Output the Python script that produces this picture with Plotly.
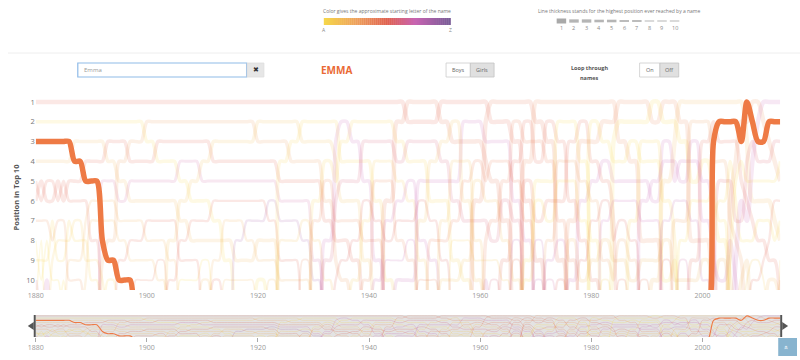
import plotly.graph_objects as go

# ---------------- data ----------------
YEARS = list(range(1880, 2015))
HIGHLIGHT = "Emma"
OUT_RANK = 11.6  # "not in top 10" -> drawn just below the visible range

PERIOD_YEARS = [1880, 1881, 1882, 1883, 1884, 1885, 1886, 1887, 1889, 1890, 1892, 1893, 1895, 1897, 1898,
                1900, 1902, 1904, 1906, 1908, 1910, 1912, 1914, 1916, 1918, 1920, 1922, 1924, 1926, 1928,
                1930, 1932, 1934, 1935, 1937, 1939, 1941, 1943, 1945, 1947, 1949, 1951, 1953, 1955, 1957,
                1959, 1961, 1962, 1964, 1966, 1968, 1970, 1972, 1974, 1976, 1978, 1980, 1982, 1984, 1985,
                1987, 1989, 1991, 1993, 1995, 1996, 1998, 2000, 2002, 2003, 2005, 2006, 2007, 2008, 2009,
                2010, 2011, 2012, 2013, 2014]

TOP10_ROSTERS = [
    ["Mary", "Anna", "Emma", "Elizabeth", "Minnie", "Margaret", "Ida", "Alice", "Bertha", "Sarah"],
    ["Mary", "Anna", "Emma", "Elizabeth", "Margaret", "Minnie", "Ida", "Annie", "Bertha", "Alice"],
    ["Mary", "Anna", "Emma", "Elizabeth", "Minnie", "Margaret", "Ida", "Alice", "Bertha", "Sarah"],
    ["Mary", "Anna", "Emma", "Elizabeth", "Minnie", "Margaret", "Bertha", "Ida", "Clara", "Alice"],
    ["Mary", "Anna", "Emma", "Elizabeth", "Margaret", "Minnie", "Ida", "Clara", "Bertha", "Alice"],
    ["Mary", "Anna", "Emma", "Elizabeth", "Minnie", "Margaret", "Ida", "Clara", "Bertha", "Annie"],
    ["Mary", "Anna", "Emma", "Elizabeth", "Margaret", "Minnie", "Bertha", "Clara", "Florence", "Ida"],
    ["Mary", "Anna", "Elizabeth", "Emma", "Margaret", "Minnie", "Clara", "Bertha", "Florence", "Ida"],
    ["Mary", "Anna", "Elizabeth", "Margaret", "Emma", "Minnie", "Florence", "Bertha", "Clara", "Ethel"],
    ["Mary", "Anna", "Elizabeth", "Margaret", "Emma", "Florence", "Ethel", "Minnie", "Clara", "Bertha"],
    ["Mary", "Anna", "Elizabeth", "Margaret", "Ruth", "Florence", "Ethel", "Emma", "Helen", "Clara"],
    ["Mary", "Anna", "Margaret", "Elizabeth", "Ruth", "Florence", "Ethel", "Helen", "Emma", "Bertha"],
    ["Mary", "Anna", "Margaret", "Helen", "Elizabeth", "Ruth", "Florence", "Ethel", "Marie", "Emma"],
    ["Mary", "Anna", "Helen", "Margaret", "Ruth", "Elizabeth", "Florence", "Marie", "Ethel", "Emma"],
    ["Mary", "Anna", "Helen", "Margaret", "Ruth", "Elizabeth", "Florence", "Marie", "Ethel", "Lillian"],
    ["Mary", "Helen", "Anna", "Margaret", "Ruth", "Elizabeth", "Marie", "Florence", "Ethel", "Lillian"],
    ["Mary", "Helen", "Margaret", "Anna", "Ruth", "Elizabeth", "Marie", "Florence", "Lillian", "Ethel"],
    ["Mary", "Helen", "Margaret", "Anna", "Ruth", "Elizabeth", "Marie", "Dorothy", "Florence", "Mildred"],
    ["Mary", "Helen", "Margaret", "Ruth", "Anna", "Dorothy", "Elizabeth", "Mildred", "Marie", "Alice"],
    ["Mary", "Helen", "Margaret", "Ruth", "Dorothy", "Anna", "Mildred", "Elizabeth", "Marie", "Alice"],
    ["Mary", "Helen", "Margaret", "Dorothy", "Ruth", "Anna", "Mildred", "Elizabeth", "Alice", "Ethel"],
    ["Mary", "Helen", "Dorothy", "Margaret", "Ruth", "Mildred", "Anna", "Elizabeth", "Frances", "Marie"],
    ["Mary", "Helen", "Dorothy", "Margaret", "Ruth", "Mildred", "Frances", "Elizabeth", "Anna", "Evelyn"],
    ["Mary", "Helen", "Dorothy", "Margaret", "Ruth", "Mildred", "Frances", "Virginia", "Elizabeth", "Evelyn"],
    ["Mary", "Helen", "Dorothy", "Margaret", "Ruth", "Mildred", "Virginia", "Frances", "Elizabeth", "Evelyn"],
    ["Mary", "Dorothy", "Helen", "Margaret", "Ruth", "Mildred", "Virginia", "Elizabeth", "Frances", "Anna"],
    ["Mary", "Dorothy", "Helen", "Margaret", "Ruth", "Virginia", "Mildred", "Elizabeth", "Frances", "Evelyn"],
    ["Mary", "Dorothy", "Helen", "Betty", "Margaret", "Ruth", "Virginia", "Doris", "Mildred", "Frances"],
    ["Mary", "Dorothy", "Betty", "Helen", "Margaret", "Ruth", "Virginia", "Doris", "Mildred", "Frances"],
    ["Mary", "Betty", "Dorothy", "Helen", "Margaret", "Ruth", "Doris", "Virginia", "Jean", "Frances"],
    ["Mary", "Betty", "Dorothy", "Helen", "Margaret", "Barbara", "Joan", "Doris", "Ruth", "Virginia"],
    ["Mary", "Betty", "Dorothy", "Barbara", "Joan", "Helen", "Margaret", "Shirley", "Patricia", "Doris"],
    ["Mary", "Betty", "Shirley", "Dorothy", "Barbara", "Patricia", "Joan", "Margaret", "Helen", "Nancy"],
    ["Mary", "Shirley", "Barbara", "Betty", "Patricia", "Dorothy", "Joan", "Margaret", "Nancy", "Helen"],
    ["Mary", "Barbara", "Shirley", "Betty", "Patricia", "Dorothy", "Joan", "Nancy", "Margaret", "Carol"],
    ["Mary", "Barbara", "Patricia", "Betty", "Shirley", "Nancy", "Carol", "Joan", "Dorothy", "Judith"],
    ["Mary", "Barbara", "Patricia", "Carol", "Judith", "Betty", "Nancy", "Joan", "Shirley", "Sandra"],
    ["Mary", "Barbara", "Patricia", "Carol", "Judith", "Linda", "Sandra", "Nancy", "Sharon", "Betty"],
    ["Mary", "Linda", "Barbara", "Patricia", "Carol", "Sandra", "Nancy", "Judith", "Sharon", "Susan"],
    ["Linda", "Mary", "Patricia", "Barbara", "Sandra", "Carol", "Nancy", "Sharon", "Judith", "Susan"],
    ["Linda", "Mary", "Patricia", "Barbara", "Susan", "Nancy", "Deborah", "Sandra", "Carol", "Kathleen"],
    ["Linda", "Mary", "Patricia", "Deborah", "Susan", "Barbara", "Nancy", "Karen", "Sandra", "Kathleen"],
    ["Mary", "Linda", "Deborah", "Patricia", "Susan", "Barbara", "Debra", "Karen", "Nancy", "Donna"],
    ["Mary", "Deborah", "Linda", "Debra", "Susan", "Patricia", "Karen", "Cynthia", "Barbara", "Donna"],
    ["Mary", "Susan", "Linda", "Debra", "Karen", "Deborah", "Patricia", "Cynthia", "Donna", "Barbara"],
    ["Mary", "Susan", "Linda", "Karen", "Donna", "Lisa", "Patricia", "Debra", "Cynthia", "Deborah"],
    ["Mary", "Lisa", "Susan", "Linda", "Karen", "Donna", "Patricia", "Kimberly", "Cynthia", "Sandra"],
    ["Lisa", "Mary", "Susan", "Karen", "Linda", "Donna", "Kimberly", "Patricia", "Cynthia", "Pamela"],
    ["Lisa", "Mary", "Susan", "Karen", "Kimberly", "Patricia", "Linda", "Donna", "Michelle", "Cynthia"],
    ["Lisa", "Kimberly", "Mary", "Michelle", "Karen", "Susan", "Patricia", "Tammy", "Laura", "Donna"],
    ["Lisa", "Michelle", "Kimberly", "Jennifer", "Melissa", "Mary", "Karen", "Susan", "Amy", "Angela"],
    ["Jennifer", "Lisa", "Kimberly", "Michelle", "Amy", "Angela", "Melissa", "Tammy", "Mary", "Tracy"],
    ["Jennifer", "Michelle", "Lisa", "Kimberly", "Amy", "Melissa", "Angela", "Heather", "Stephanie", "Rebecca"],
    ["Jennifer", "Amy", "Michelle", "Heather", "Angela", "Melissa", "Kimberly", "Stephanie", "Lisa", "Nicole"],
    ["Jennifer", "Amy", "Melissa", "Heather", "Angela", "Michelle", "Jessica", "Elizabeth", "Kimberly", "Sarah"],
    ["Jennifer", "Melissa", "Jessica", "Amy", "Heather", "Sarah", "Angela", "Michelle", "Nicole", "Elizabeth"],
    ["Jennifer", "Amanda", "Jessica", "Melissa", "Sarah", "Heather", "Nicole", "Amy", "Elizabeth", "Michelle"],
    ["Jennifer", "Jessica", "Amanda", "Sarah", "Melissa", "Nicole", "Stephanie", "Elizabeth", "Heather", "Crystal"],
    ["Jennifer", "Jessica", "Ashley", "Amanda", "Sarah", "Stephanie", "Melissa", "Nicole", "Elizabeth", "Heather"],
    ["Jessica", "Ashley", "Jennifer", "Amanda", "Sarah", "Stephanie", "Nicole", "Heather", "Elizabeth", "Megan"],
    ["Jessica", "Ashley", "Amanda", "Jennifer", "Sarah", "Stephanie", "Brittany", "Nicole", "Heather", "Elizabeth"],
    ["Jessica", "Ashley", "Brittany", "Amanda", "Sarah", "Samantha", "Stephanie", "Jennifer", "Elizabeth", "Lauren"],
    ["Ashley", "Jessica", "Brittany", "Amanda", "Samantha", "Sarah", "Stephanie", "Jennifer", "Elizabeth", "Emily"],
    ["Jessica", "Ashley", "Sarah", "Samantha", "Emily", "Brittany", "Taylor", "Elizabeth", "Megan", "Amanda"],
    ["Jessica", "Ashley", "Emily", "Samantha", "Sarah", "Taylor", "Hannah", "Brittany", "Amanda", "Elizabeth"],
    ["Emily", "Jessica", "Ashley", "Sarah", "Samantha", "Taylor", "Hannah", "Alexis", "Rachel", "Elizabeth"],
    ["Emily", "Hannah", "Samantha", "Sarah", "Ashley", "Alexis", "Taylor", "Jessica", "Madison", "Elizabeth"],
    ["Emily", "Hannah", "Madison", "Ashley", "Sarah", "Alexis", "Samantha", "Jessica", "Elizabeth", "Taylor"],
    ["Emily", "Madison", "Emma", "Hannah", "Alexis", "Ashley", "Abigail", "Sarah", "Samantha", "Olivia"],
    ["Emily", "Emma", "Madison", "Hannah", "Olivia", "Abigail", "Alexis", "Ashley", "Elizabeth", "Samantha"],
    ["Emily", "Emma", "Madison", "Abigail", "Olivia", "Isabella", "Hannah", "Samantha", "Ava", "Ashley"],
    ["Emily", "Emma", "Madison", "Isabella", "Ava", "Abigail", "Olivia", "Hannah", "Sophia", "Samantha"],
    ["Emily", "Isabella", "Emma", "Ava", "Madison", "Sophia", "Olivia", "Abigail", "Hannah", "Elizabeth"],
    ["Emma", "Isabella", "Emily", "Olivia", "Ava", "Madison", "Sophia", "Abigail", "Elizabeth", "Chloe"],
    ["Isabella", "Emma", "Olivia", "Sophia", "Ava", "Emily", "Madison", "Abigail", "Chloe", "Mia"],
    ["Isabella", "Sophia", "Emma", "Olivia", "Ava", "Emily", "Abigail", "Madison", "Chloe", "Mia"],
    ["Sophia", "Isabella", "Emma", "Olivia", "Ava", "Emily", "Abigail", "Madison", "Mia", "Chloe"],
    ["Sophia", "Emma", "Isabella", "Olivia", "Ava", "Emily", "Abigail", "Mia", "Madison", "Elizabeth"],
    ["Sophia", "Emma", "Olivia", "Isabella", "Ava", "Mia", "Emily", "Abigail", "Madison", "Elizabeth"],
    ["Sophia", "Emma", "Olivia", "Ava", "Isabella", "Mia", "Abigail", "Emily", "Charlotte", "Harper"],
]

COLOR_STOPS = [(0.0, "#F6D84A"), (0.25, "#EEA25C"), (0.5, "#E0614F"), (0.72, "#C864B2"), (1.0, "#785C96")]
HIGHLIGHT_COLOR = "#EE7A45"
WIDTH_BY_BEST = [4.5, 3.6, 3.6, 3.0, 3.0, 2.4, 2.4, 1.8, 1.8, 1.8]
LEGEND_HEIGHTS = [5, 3.3, 3.3, 2.6, 2.6, 1.8, 1.8, 1.0, 1.0, 1.0]
XTICKS = [1880, 1900, 1920, 1940, 1960, 1980, 2000]


# ---------------- helpers ----------------
def hex2rgb(h):
    h = h.lstrip("#")
    return tuple(int(h[i:i + 2], 16) for i in (0, 2, 4))


def scale_color(t):
    for (t0, c0), (t1, c1) in zip(COLOR_STOPS[:-1], COLOR_STOPS[1:]):
        if t0 <= t <= t1:
            f = (t - t0) / (t1 - t0) if t1 > t0 else 0
            a, b = hex2rgb(c0), hex2rgb(c1)
            return "rgb(%d,%d,%d)" % tuple(round(a[i] + (b[i] - a[i]) * f) for i in range(3))
    return COLOR_STOPS[-1][1]


def roster_for(year):
    idx = 0
    for i, y in enumerate(PERIOD_YEARS):
        if y <= year:
            idx = i
    return TOP10_ROSTERS[idx]


names = []
for r in TOP10_ROSTERS:
    for n in r:
        if n not in names:
            names.append(n)

ranks = {n: [] for n in names}
for yr in YEARS:
    r = roster_for(yr)
    for n in names:
        ranks[n].append(r.index(n) + 1 if n in r else OUT_RANK)


def PX(x):
    return x / 800.0


def PY(y):
    return 1 - y / 360.0


# ---------------- figure ----------------
fig = go.Figure()

order = [n for n in names if n != HIGHLIGHT] + [HIGHLIGHT]
for n in order:
    best = min(ranks[n])
    hl = n == HIGHLIGHT
    col = HIGHLIGHT_COLOR if hl else scale_color((ord(n[0].upper()) - 65) / 25.0)
    fig.add_trace(go.Scatter(
        x=YEARS, y=ranks[n], mode="lines", xaxis="x", yaxis="y",
        line=dict(color=col, width=WIDTH_BY_BEST[int(best) - 1] if not hl else 5.5, shape="spline", smoothing=0.8),
        opacity=1.0 if hl else 0.15, hoverinfo="skip", showlegend=False))
for n in order:
    hl = n == HIGHLIGHT
    col = HIGHLIGHT_COLOR if hl else scale_color((ord(n[0].upper()) - 65) / 25.0)
    fig.add_trace(go.Scatter(
        x=YEARS, y=ranks[n], mode="lines", xaxis="x2", yaxis="y2",
        line=dict(color=col, width=1.1 if hl else 0.6, shape="spline", smoothing=0.8),
        opacity=1.0 if hl else 0.4, hoverinfo="skip", showlegend=False))

FONT = "Open Sans"
tickfont = dict(family=FONT, size=7, color="#999")

fig.update_layout(
    width=800, height=360, margin=dict(l=0, r=0, t=0, b=0),
    paper_bgcolor="white", plot_bgcolor="white", showlegend=False,
    font=dict(family=FONT),
    xaxis=dict(domain=[PX(28), PX(780)], range=[1880, 2014], anchor="y", tickvals=XTICKS,
               showgrid=False, zeroline=False, showline=False, ticks="", tickfont=tickfont),
    yaxis=dict(domain=[PY(290), PY(95)], range=[10.5, 0.65], anchor="x", tickvals=list(range(1, 11)),
               showgrid=False, zeroline=False, showline=False, ticks="",
               tickfont=dict(family=FONT, size=7.5, color="#777")),
    xaxis2=dict(domain=[PX(28), PX(780)], range=[1880, 2014], anchor="y2", tickvals=XTICKS,
                showgrid=False, zeroline=False, showline=False, ticks="outside", ticklen=4,
                tickcolor="#aaa", tickfont=tickfont),
    yaxis2=dict(domain=[PY(337), PY(315)], range=[10.5, 0.6], anchor="x2", visible=False),
)

shapes = []
ann = []


def text(x, y, s, size, color, family=FONT, angle=0, xanchor="center"):
    ann.append(dict(x=PX(x), y=PY(y), xref="paper", yref="paper", text=s, showarrow=False,
                    xanchor=xanchor, yanchor="middle", textangle=angle, borderpad=0,
                    font=dict(family=family, size=size, color=color)))


def rect(x0, y0, x1, y1, fill, line_color=None, lw=0):
    shapes.append(dict(type="rect", xref="paper", yref="paper", x0=PX(x0), x1=PX(x1), y0=PY(y1), y1=PY(y0),
                       fillcolor=fill, line=dict(color=line_color or fill, width=lw)))


# mini chart background
shapes.append(dict(type="rect", xref="x2 domain", yref="y2 domain", x0=0, x1=1, y0=0, y1=1,
                   fillcolor="#e3e3e3", line=dict(width=0), layer="below"))
# handles
for xb, tip in [(26, 20), (780, 788)]:
    rect(xb, 315, xb + 2, 337, "#555")
    base = xb if tip < xb else xb + 2
    shapes.append(dict(type="path", xref="paper", yref="paper",
                       path="M %f %f L %f %f L %f %f Z" % (PX(base), PY(322), PX(base), PY(330), PX(tip), PY(326)),
                       fillcolor="#555", line=dict(width=0)))
# blue button
rect(778, 338, 797, 356, "#88b4cf")
text(787.5, 347, "«", 8, "white", angle=90)

# separator
shapes.append(dict(type="line", xref="paper", yref="paper", x0=0, x1=1, y0=PY(53), y1=PY(53),
                   line=dict(color="#eeeeee", width=1)))

# color legend
text(383, 10.5, "Color gives the approximate starting letter of the name", 5, "#777")
nseg = 64
for i in range(nseg):
    x0 = 319 + (447 - 319) * i / nseg
    x1 = 319 + (447 - 319) * (i + 1) / nseg + 0.3
    rect(x0, 18, x1, 25, scale_color((i + 0.5) / nseg))
text(319, 29.5, "A", 5, "#888")
text(447, 29.5, "Z", 5, "#888")

# thickness legend
text(617, 10.5, "Line thickness stands for the highest position ever reached by a name", 5, "#777")
for i, h in enumerate(LEGEND_HEIGHTS):
    cx = 559 + i * 12.7
    rect(cx - 4.8, 21 - h / 2, cx + 4.8, 21 + h / 2, "#a9a9a9" if i == 0 else "#b5b5b5")
    text(cx, 28.5, str(i + 1), 5.5, "#888")

# input box + clear button
rect(70.5, 63, 241, 77, "white", "#8fbbe8", 1.2)
text(76, 70, "Emma", 6, "#999", xanchor="left")
rect(241.5, 63, 258.5, 77, "#e6e6e6", "#dddddd", 0.8)
text(250, 70, "✖", 7, "#333", family="DejaVu Sans")

# title
text(332, 70, "<b>EMMA</b>", 10, "#EA6A35")

# Boys / Girls toggle
rect(442.5, 63, 467, 77, "white", "#cccccc", 0.8)
rect(467, 63, 491, 77, "#e0e0e0", "#c4c4c4", 0.8)
text(455, 70, "Boys", 5.5, "#666")
text(479, 70, "Girls", 5.5, "#666")

# Loop through names
text(587, 67.5, "<b>Loop through</b>", 5.5, "#555")
text(587, 78, "<b>names</b>", 5.5, "#555")
rect(638, 63, 658.5, 77, "white", "#cccccc", 0.8)
rect(658.5, 63, 677.5, 77, "#e0e0e0", "#c4c4c4", 0.8)
text(648, 70, "On", 5.5, "#666")
text(668, 70, "Off", 5.5, "#666")

# y-axis title
text(8.5, 197, "<b>Position in Top 10</b>", 7.5, "#555", angle=-90)

fig.update_layout(shapes=shapes, annotations=ann)
fig.write_html("out.html", config={"displayModeBar": False},
               post_script="document.body.style.margin='0';document.body.style.overflow='hidden';")
